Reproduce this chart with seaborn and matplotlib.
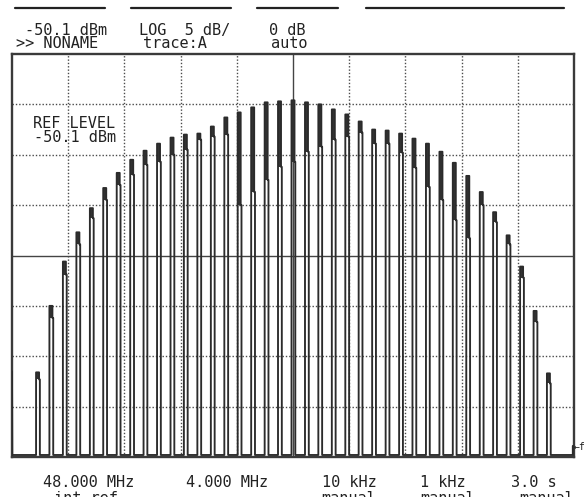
import numpy as np
import pandas as pd
import matplotlib
matplotlib.use("Agg")
import matplotlib.pyplot as plt
import seaborn as sns
from matplotlib.lines import Line2D

ref_level_dbm = -50.1
db_per_div = 5
n_vdiv = 8
center_mhz = 48.0
span_mhz = 4.0
n_hdiv = 10

line_freq_mhz = [46.182, 46.277, 46.373, 46.469, 46.565, 46.660, 46.756, 46.852,
                 46.947, 47.043, 47.139, 47.234, 47.330, 47.426, 47.522, 47.617,
                 47.713, 47.809, 47.904, 48.000, 48.096, 48.191, 48.287, 48.383,
                 48.478, 48.574, 48.670, 48.766, 48.861, 48.957, 49.053, 49.148,
                 49.244, 49.340, 49.435, 49.531, 49.627, 49.723, 49.818]

peak_dbm = [-81.7, -75.1, -70.7, -67.8, -65.4, -63.4, -61.9, -60.6,
            -59.7, -59.0, -58.4, -58.1, -58.0, -57.3, -56.4, -55.9,
            -55.4, -54.9, -54.8, -54.7, -54.9, -55.1, -55.6, -56.1,
            -56.8, -57.6, -57.7, -58.0, -58.5, -59.0, -59.8, -60.9,
            -62.2, -63.8, -65.8, -68.1, -71.2, -75.6, -81.8]

shoulder_dbm = [-82.4, -76.3, -72.0, -69.0, -66.4, -64.6, -63.1, -62.1,
                -61.1, -60.8, -60.1, -59.6, -58.6, -58.3, -58.1, -65.1,
                -63.8, -62.6, -61.3, -60.8, -59.8, -59.3, -58.6, -58.3,
                -57.9, -59.0, -59.0, -59.9, -61.4, -63.3, -64.6, -66.6,
                -68.4, -65.1, -66.8, -69.0, -72.3, -76.7, -82.8]

noise_floor_dbm = -89.9
start_level_dbm = -81.6
end_level_dbm = -89.0

header_line1 = ["-50.1 dBm", "LOG  5 dB/", "0 dB"]
header_line2 = [">> NONAME", "trace:A", "auto"]
footer_line1 = ["48.000 MHz", "4.000 MHz", "10 kHz", "1 kHz", "3.0 s"]
footer_line2 = ["int ref", "manual", "manual", "manual"]

# ---------------- figure ----------------
W, H = 588, 497
sns.set_theme(style="white")
plt.rcParams["font.family"] = ["DejaVu Sans Mono", "DejaVu Sans"]
fig = plt.figure(figsize=(W / 100, H / 100), dpi=100)
fig.patch.set_facecolor("white")

L, R, T, B = 12, 574, 54, 457
ax = fig.add_axes([L / W, 1 - B / H, (R - L) / W, (B - T) / H])
ax.set_facecolor("white")

f0 = center_mhz - span_mhz / 2
f1 = center_mhz + span_mhz / 2
bottom_dbm = ref_level_dbm - db_per_div * n_vdiv
ax.set_xlim(f0, f1)
ax.set_ylim(bottom_dbm, ref_level_dbm)
ax.set_xticks([])
ax.set_yticks([])
for s in ax.spines.values():
    s.set_color("#3a3a3a")
    s.set_linewidth(1.7)

# graticule
mhz_per_px = span_mhz / (R - L)
for i in range(1, n_hdiv):
    xv = f0 + i * span_mhz / n_hdiv
    if i == n_hdiv // 2:
        ax.axvline(xv, color="#444444", lw=1.0, zorder=1)
    else:
        ax.axvline(xv, color="#4a4a4a", lw=1.0, ls=(0, (1, 1.4)), zorder=1)
for j in range(1, n_vdiv):
    yv = ref_level_dbm - j * db_per_div
    if j == n_vdiv // 2:
        ax.axhline(yv, color="#444444", lw=1.0, zorder=1)
    else:
        ax.axhline(yv, color="#4a4a4a", lw=1.0, ls=(0, (1, 1.4)), zorder=1)

# trace built from the comb line values
hw = 1.5 * mhz_per_px      # half width of a line
step = 0.8 * mhz_per_px    # shoulder step
xs = [f0, f0 + 0.3 * mhz_per_px]
ys = [start_level_dbm, noise_floor_dbm]
for f, p, s in zip(line_freq_mhz, peak_dbm, shoulder_dbm):
    xs += [f - hw, f - hw, f + hw, f + hw, f + hw + step, f + hw + step]
    ys += [noise_floor_dbm, p, p, s, s, noise_floor_dbm]
    ax.fill_between([f - hw, f + hw], [s, s], [p, p], color="#333333",
                    lw=0, zorder=3)
xs += [f1 - 1.2 * mhz_per_px, f1 - 1.2 * mhz_per_px, f1]
ys += [noise_floor_dbm, end_level_dbm, end_level_dbm]
trace = pd.DataFrame({"freq": xs, "level": ys})
sns.lineplot(data=trace, x="freq", y="level", sort=False, estimator=None,
             color="#2b2b2b", lw=1.35, ax=ax, zorder=4)
ax.set_xlabel("")
ax.set_ylabel("")

# on-screen annotations
ax.text((33 - L) / (R - L), 1 - (128 - T) / (B - T), "REF LEVEL",
        transform=ax.transAxes, fontsize=11, color="#222222", va="baseline")
ax.text((34 - L) / (R - L), 1 - (142 - T) / (B - T), header_line1[0],
        transform=ax.transAxes, fontsize=11, color="#222222", va="baseline")

# header
fs = 11
hx1 = [25, 139, 269]
hx2 = [16, 143, 271]
for x, s in zip(hx1, header_line1):
    fig.text(x / W, 1 - 35 / H, s, fontsize=fs, color="#222222", va="baseline")
for x, s in zip(hx2, header_line2):
    fig.text(x / W, 1 - 48.5 / H, s, fontsize=fs, color="#222222", va="baseline")
for xa, xb in [(15, 105), (131, 231), (257, 338), (366, 564)]:
    fig.add_artist(Line2D([xa / W, xb / W], [1 - 7.5 / H, 1 - 7.5 / H],
                          color="#222222", lw=1.6))

# footer (second row is cut by the screen edge, as on the original)
fx1 = [43, 186, 322, 420, 511]
fx2 = [54, 321, 420, 519]
for x, s in zip(fx1, footer_line1):
    fig.text(x / W, 1 - 487 / H, s, fontsize=fs, color="#222222", va="baseline")
for x, s in zip(fx2, footer_line2):
    fig.text(x / W, 1 - 503 / H, s, fontsize=fs, color="#222222", va="baseline")

# frequency marker arrow at right edge
fig.text(574 / W, 1 - 447 / H, "←f", fontsize=7, color="#222222", va="center")

fig.savefig("out.png", dpi=100, facecolor="white")
